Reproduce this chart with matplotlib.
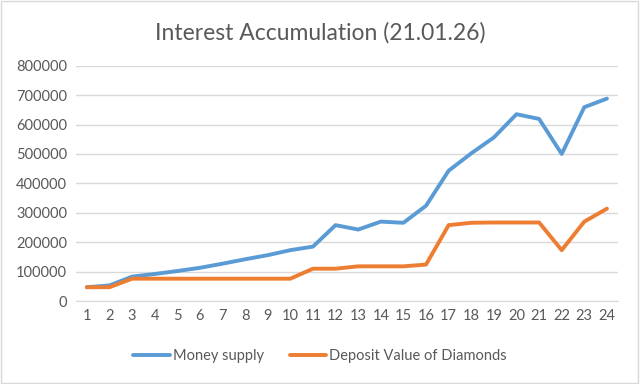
import matplotlib.pyplot as plt
from matplotlib.patches import Rectangle

periods = list(range(1, 25))
money_supply = [47000, 53000, 83000, 92000, 102000, 113000, 127000, 142000,
                156000, 173000, 185000, 258000, 243000, 270000, 266000, 324000,
                443000, 502000, 556000, 635000, 619000, 500000, 659000, 688000]
diamond_value = [47000, 47000, 76000, 76000, 76000, 76000, 76000, 76000,
                 76000, 76000, 110000, 110000, 118000, 118000, 118000, 124000,
                 258000, 266000, 267000, 267000, 267000, 173000, 270000, 314000]
y_ticks = list(range(0, 800001, 100000))

text_color = "#595959"
plt.rcParams["font.family"] = ["Lato", "DejaVu Sans"]

fig = plt.figure(figsize=(6.4, 3.84), dpi=100)
ax = fig.add_axes([0.118, 0.216, 0.848, 0.613])

ax.plot(periods, money_supply, color="#5b9bd5", lw=2.8,
        solid_capstyle="round", solid_joinstyle="round", label="Money supply")
ax.plot(periods, diamond_value, color="#ed7d31", lw=2.8,
        solid_capstyle="round", solid_joinstyle="round",
        label="Deposit Value of Diamonds")

ax.set_xlim(0.5, 24.5)
ax.set_ylim(0, 800000)
ax.set_xticks(periods, [str(p) for p in periods])
ax.set_yticks(y_ticks, [str(v) for v in y_ticks])
ax.tick_params(length=0, labelsize=10.5, colors=text_color, pad=6)
ax.grid(axis="y", color="#d9d9d9", lw=1)
ax.set_axisbelow(True)
for side in ["top", "right", "left"]:
    ax.spines[side].set_visible(False)
ax.spines["bottom"].set_color("#d9d9d9")

fig.text(0.5, 0.915, "Interest Accumulation (21.01.26)", ha="center",
         va="center", fontsize=16.5, color=text_color)
fig.legend(loc="center", bbox_to_anchor=(0.5, 0.073), ncol=2, frameon=False,
           fontsize=10.5, labelcolor=text_color, handlelength=2.5,
           handletextpad=0.2, columnspacing=1.8)

fig.patches.append(Rectangle((0.002, 0.003), 0.995, 0.994, transform=fig.transFigure,
                             fill=False, edgecolor="#d9d9d9", lw=1))

fig.savefig("out.png", dpi=100)
